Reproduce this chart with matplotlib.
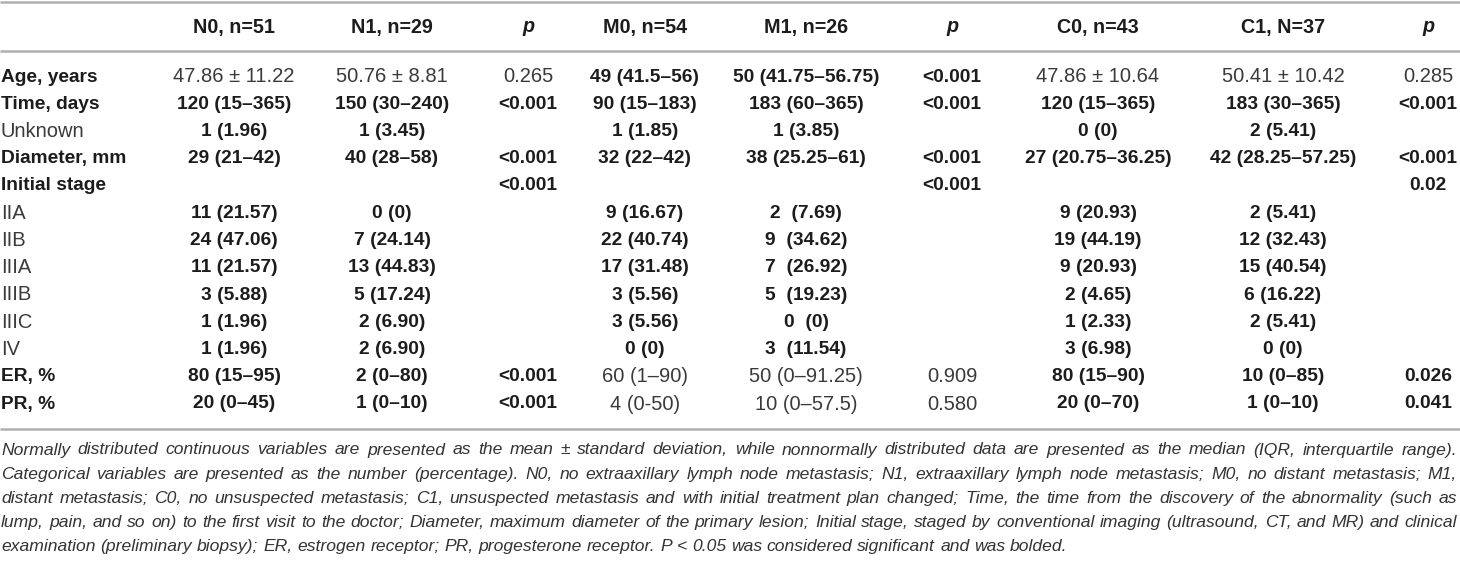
import matplotlib.pyplot as plt

plt.rcParams['font.family'] = ['Liberation Sans', 'DejaVu Sans']

# table content
headers = ["", "N0, n=51", "N1, n=29", "p", "M0, n=54", "M1, n=26", "p", "C0, n=43", "C1, N=37", "p"]
row_labels = ["Age, years", "Time, days", "Unknown", "Diameter, mm", "Initial stage",
              "IIA", "IIB", "IIIA", "IIIB", "IIIC", "IV", "ER, %", "PR, %"]
label_bold = [1, 1, 0, 1, 1, 0, 0, 0, 0, 0, 0, 1, 1]

n0 = ["47.86 ± 11.22", "120 (15–365)", "1 (1.96)", "29 (21–42)", "", "11 (21.57)", "24 (47.06)",
      "11 (21.57)", "3 (5.88)", "1 (1.96)", "1 (1.96)", "80 (15–95)", "20 (0–45)"]
n1 = ["50.76 ± 8.81", "150 (30–240)", "1 (3.45)", "40 (28–58)", "", "0 (0)", "7 (24.14)",
      "13 (44.83)", "5 (17.24)", "2 (6.90)", "2 (6.90)", "2 (0–80)", "1 (0–10)"]
p_n = ["0.265", "<0.001", "", "<0.001", "<0.001", "", "", "", "", "", "", "<0.001", "<0.001"]
m0 = ["49 (41.5–56)", "90 (15–183)", "1 (1.85)", "32 (22–42)", "", "9 (16.67)", "22 (40.74)",
      "17 (31.48)", "3 (5.56)", "3 (5.56)", "0 (0)", "60 (1–90)", "4 (0-50)"]
m1 = ["50 (41.75–56.75)", "183 (60–365)", "1 (3.85)", "38 (25.25–61)", "", "2  (7.69)", "9  (34.62)",
      "7  (26.92)", "5  (19.23)", "0  (0)", "3  (11.54)", "50 (0–91.25)", "10 (0–57.5)"]
p_m = ["<0.001", "<0.001", "", "<0.001", "<0.001", "", "", "", "", "", "", "0.909", "0.580"]
c0 = ["47.86 ± 10.64", "120 (15–365)", "0 (0)", "27 (20.75–36.25)", "", "9 (20.93)", "19 (44.19)",
      "9 (20.93)", "2 (4.65)", "1 (2.33)", "3 (6.98)", "80 (15–90)", "20 (0–70)"]
c1 = ["50.41 ± 10.42", "183 (30–365)", "2 (5.41)", "42 (28.25–57.25)", "", "2 (5.41)", "12 (32.43)",
      "15 (40.54)", "6 (16.22)", "2 (5.41)", "0 (0)", "10 (0–85)", "1 (0–10)"]
p_c = ["0.285", "<0.001", "", "<0.001", "0.02", "", "", "", "", "", "", "0.026", "0.041"]

# bold flags per column (1 = bold)
bold_n = [0] + [1] * 12
bold_pn = [0] + [1] * 12
bold_m = [1] * 11 + [0, 0]
bold_c = [0] + [1] * 12

columns = [n0, n1, p_n, m0, m1, p_m, c0, c1, p_c]
col_bold = [bold_n, bold_n, bold_pn, bold_m, bold_m, bold_m, bold_c, bold_c, bold_c]

footnote = [
    "Normally distributed continuous variables are presented as the mean ± standard deviation, while nonnormally distributed data are presented as the median  (IQR, interquartile range).",
    "Categorical variables are presented as the number  (percentage). N0, no extraaxillary lymph node metastasis; N1, extraaxillary lymph node metastasis; M0, no distant metastasis; M1,",
    "distant metastasis; C0, no unsuspected metastasis; C1, unsuspected metastasis and with initial treatment plan changed; Time, the time from the discovery of the abnormality  (such as",
    "lump, pain, and so on) to the first visit to the doctor; Diameter, maximum diameter of the primary lesion; Initial stage, staged by conventional imaging  (ultrasound, CT, and MR) and clinical",
    "examination  (preliminary biopsy); ER, estrogen receptor; PR, progesterone receptor. P < 0.05 was considered significant and was bolded.",
]

# layout in pixel coordinates
W, H = 1460, 564
col_x = [234, 392, 528, 645, 806, 952, 1098, 1283, 1428]
header_y = 27
row_y0, row_dy = 77, 27.25
fs_bold, fs_light, fs_head, fs_note = 13.8, 14.5, 14.2, 12.6
dark, light = "#1c1c1c", "#3a3a3a"

fig = plt.figure(figsize=(W / 100, H / 100), dpi=100)
ax = fig.add_axes([0, 0, 1, 1])
ax.set_xlim(0, W)
ax.set_ylim(H, 0)
ax.axis("off")

# rules
for y in (1.5, 51, 429):
    ax.plot([0, W], [y, y], color="#b0b0b0", lw=1.8, solid_capstyle="butt")

# header
for j, h in enumerate(headers[1:]):
    ax.text(col_x[j], header_y, h, ha="center", va="center", fontsize=fs_head,
            fontweight="bold", fontstyle="italic" if h == "p" else "normal", color=dark)


def cell(x, y, s, bold, ha="center"):
    ax.text(x, y, s, ha=ha, va="center",
            fontsize=fs_bold if bold else fs_light,
            fontweight="bold" if bold else "normal",
            color=dark if bold else light)


# rows
for i, lab in enumerate(row_labels):
    y = row_y0 + i * row_dy
    cell(1, y, lab, label_bold[i], ha="left")
    for j, col in enumerate(columns):
        if col[i]:
            cell(col_x[j], y, col[i], col_bold[j][i])

# footnote, justified like the source (last line left aligned)
renderer = fig.canvas.get_renderer()
note_kw = dict(va="center", fontsize=fs_note, fontstyle="italic", color="#333333")


def text_w(s):
    t = ax.text(0, 0, s, **note_kw)
    w = t.get_window_extent(renderer).width
    t.remove()
    return w


space = text_w("x x") - text_w("xx")
left, right = 1, 1457
for k, line in enumerate(footnote):
    y = 450 + k * 24.2
    words = line.split()
    widths = [text_w(w) for w in words]
    if k < len(footnote) - 1:
        gap = (right - left - sum(widths)) / (len(words) - 1)
    else:
        gap = space
    x = left
    for w, wd in zip(words, widths):
        ax.text(x, y, w, ha="left", **note_kw)
        x += wd + gap

fig.savefig("out.png", dpi=100)
